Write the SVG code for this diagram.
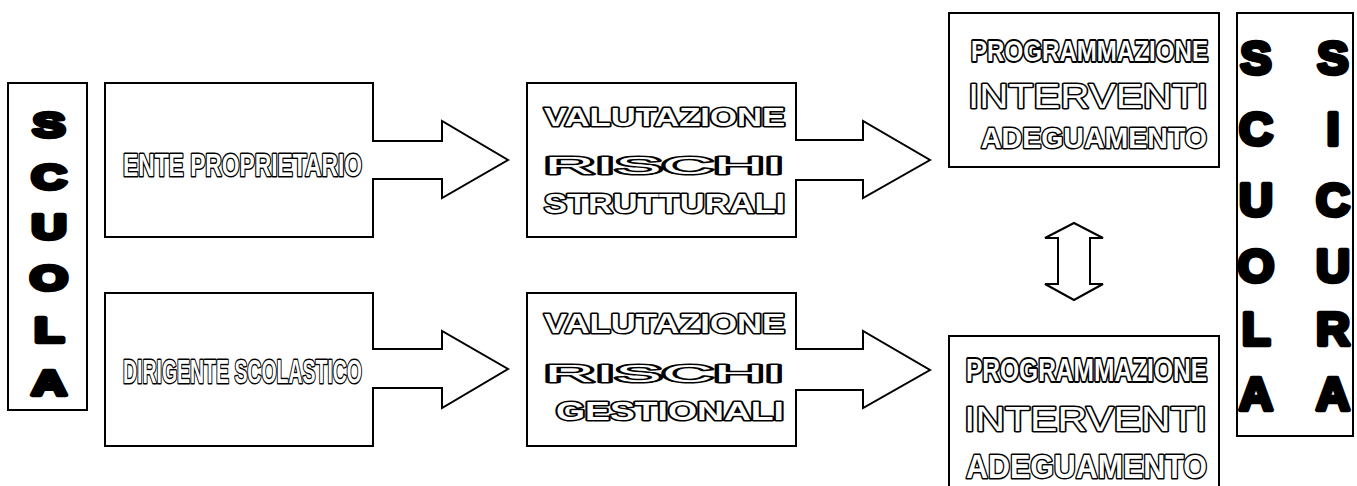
<svg xmlns="http://www.w3.org/2000/svg" width="1357" height="486" viewBox="0 0 1357 486">
<style>
.box{fill:#fff;stroke:#000;stroke-width:2}
.ol{fill:#fff;stroke:#000;stroke-width:3;paint-order:stroke;stroke-linejoin:round;font-family:"Liberation Sans",Arial,sans-serif;font-weight:bold}
.nar{font-family:"Liberation Sans Narrow","Liberation Sans",Arial,sans-serif}
.rs{font-weight:normal;stroke-width:3}
.blk{fill:#000;stroke:#000;stroke-width:4.5;stroke-linejoin:round;font-family:"Liberation Sans",Arial,sans-serif;font-weight:bold;text-anchor:middle}
</style>
<rect width="1357" height="486" fill="#fff"/>

<g id="scuola">
<rect class="box" x="8" y="83" width="79" height="327"/>
<text class="blk" font-size="36" transform="translate(49,0) scale(1.35,1)"><tspan x="0" y="137">S</tspan><tspan x="0" y="189">C</tspan><tspan x="0" y="239">U</tspan><tspan x="0" y="290">O</tspan><tspan x="0" y="342">L</tspan><tspan x="0" y="395">A</tspan></text>
</g>

<g id="ente">
<path class="box" d="M105,83 H373 V141 H442 V121 L508,160 L442,198 V179 H373 V237 H105 Z"/>
<text class="ol nar" x="123" y="176" font-size="31" textLength="239" lengthAdjust="spacingAndGlyphs">ENTE PROPRIETARIO</text>
</g>

<g id="dirigente">
<path class="box" d="M105,293 H373 V349 H442 V331 L508,369 L442,408 V388 H373 V446 H105 Z"/>
<text class="ol nar" x="123" y="383" font-size="33" textLength="239" lengthAdjust="spacingAndGlyphs">DIRIGENTE SCOLASTICO</text>
</g>

<g id="val-strutturali">
<path class="box" d="M527,83 H796 V140 H863 V121 L930,160 L863,198 V180 H796 V237 H527 Z"/>
<text class="ol" x="544" y="126" font-size="26" textLength="241" lengthAdjust="spacingAndGlyphs">VALUTAZIONE</text>
<text class="ol rs" x="544" y="174" font-size="24" textLength="240" lengthAdjust="spacingAndGlyphs">RISCHI</text>
<text class="ol" x="544" y="213" font-size="28" textLength="241" lengthAdjust="spacingAndGlyphs">STRUTTURALI</text>
</g>

<g id="val-gestionali">
<path class="box" d="M527,293 H796 V349 H863 V331 L930,370 L863,408 V390 H796 V446 H527 Z"/>
<text class="ol" x="544" y="333" font-size="28" textLength="241" lengthAdjust="spacingAndGlyphs">VALUTAZIONE</text>
<text class="ol rs" x="544" y="382" font-size="24" textLength="240" lengthAdjust="spacingAndGlyphs">RISCHI</text>
<text class="ol" x="556" y="420" font-size="26" textLength="228" lengthAdjust="spacingAndGlyphs">GESTIONALI</text>
</g>

<g id="prog-top">
<rect class="box" x="949" y="13" width="270" height="154"/>
<text class="ol" x="0" y="0" font-size="24" transform="translate(971,61) scale(1,1.25)" textLength="237" lengthAdjust="spacingAndGlyphs">PROGRAMMAZIONE</text>
<text class="ol rs" x="968" y="108" font-size="35" textLength="240" lengthAdjust="spacingAndGlyphs">INTERVENTI</text>
<text class="ol" x="981" y="148" font-size="30" textLength="226" lengthAdjust="spacingAndGlyphs">ADEGUAMENTO</text>
</g>

<g id="prog-bottom">
<rect class="box" x="949" y="336" width="270" height="154"/>
<text class="ol" x="0" y="0" font-size="24.5" transform="translate(966,381) scale(1,1.27)" textLength="241" lengthAdjust="spacingAndGlyphs">PROGRAMMAZIONE</text>
<text class="ol rs" x="964" y="431" font-size="35" textLength="243" lengthAdjust="spacingAndGlyphs">INTERVENTI</text>
<text class="ol" x="966" y="478" font-size="34" textLength="241" lengthAdjust="spacingAndGlyphs">ADEGUAMENTO</text>
</g>

<g id="scuola-sicura">
<rect class="box" x="1237" y="13" width="116" height="423"/>
<text class="blk" font-size="47"><tspan x="1256" y="74">S</tspan><tspan x="1256" y="145">C</tspan><tspan x="1256" y="216">U</tspan><tspan x="1256" y="282">O</tspan><tspan x="1256" y="345">L</tspan><tspan x="1256" y="410">A</tspan></text>
<text class="blk" font-size="47"><tspan x="1333" y="74">S</tspan><tspan x="1333" y="145">I</tspan><tspan x="1333" y="216">C</tspan><tspan x="1333" y="282">U</tspan><tspan x="1333" y="345">R</tspan><tspan x="1333" y="410">A</tspan></text>
</g>

<g id="connectors">
<polygon class="box" points="1074,223 1103,238 1090,238 1090,284 1103,284 1074,300 1045,284 1058,284 1058,238 1045,238"/>
</g>
</svg>
